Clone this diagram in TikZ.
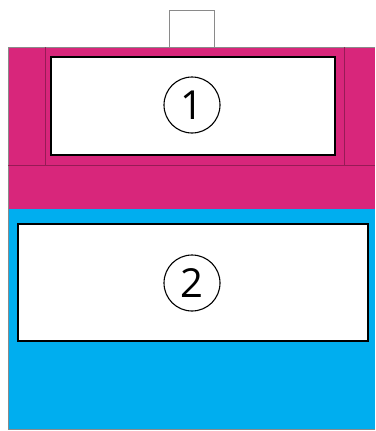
\documentclass[tikz,border=0pt]{standalone}
\usepackage{fontspec}
\setmainfont{Open Sans}
\definecolor{pinkc}{HTML}{D8267B}
\definecolor{bluec}{HTML}{00AEEF}
\definecolor{edgec}{HTML}{8A8A8A}
\tikzset{
  pane/.style={draw=edgec, line width=0.8pt},
  whitebox/.style={draw=black, fill=white},
  numcircle/.style={circle, draw=black, line width=1.1pt, minimum size=56pt, inner sep=0pt, font=\fontsize{40}{40}\selectfont}
}
\begin{document}
\begin{tikzpicture}[x=1pt,y=-1pt]
\useasboundingbox (0,0) rectangle (375,431);
\fill[white] (0,0) rectangle (375,431);
% tab
\draw[draw=edgec, line width=0.8pt, fill=white] (169,47) -- (169,10) -- (214,10) -- (214,47);
% pink region
\fill[pinkc] (8,47) rectangle (375,209);
\draw[pane] (375,47) -- (8,47) -- (8,209);
\draw[draw=pinkc!70!black, line width=0.6pt] (45,47) -- (45,165) (344,47) -- (344,165) (8,165) -- (375,165);
% blue region
\fill[bluec] (8,209) rectangle (375,429);
\draw[pane] (8,209) -- (8,429) -- (375,429);
% box 1
\draw[whitebox, line width=2.5pt] (51,57) rectangle (335,155);
\node[numcircle] (n1) at (192,105) {1};
% box 2
\draw[whitebox, line width=1.6pt] (18,224) rectangle (368,341);
\node[numcircle] (n2) at (192,283) {2};
\end{tikzpicture}
\end{document}
